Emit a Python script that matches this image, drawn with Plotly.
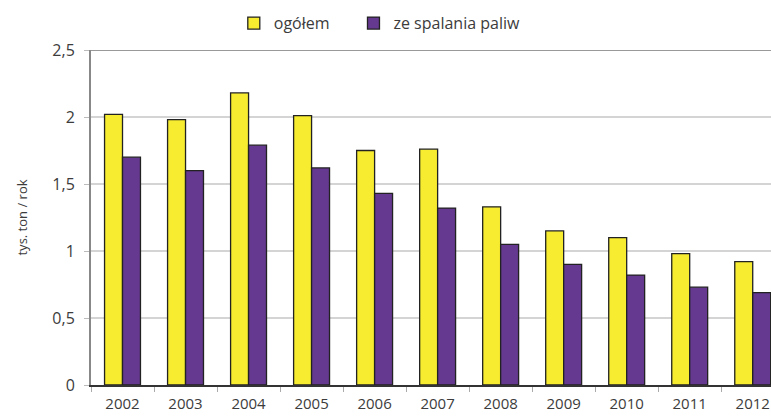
import plotly.graph_objects as go

years = ["2002", "2003", "2004", "2005", "2006", "2007", "2008", "2009", "2010", "2011", "2012"]
ogolem = [2.02, 1.98, 2.18, 2.01, 1.75, 1.76, 1.33, 1.15, 1.10, 0.98, 0.92]
spalanie = [1.70, 1.60, 1.79, 1.62, 1.43, 1.32, 1.05, 0.90, 0.82, 0.73, 0.69]
y_ticks = [0, 0.5, 1, 1.5, 2, 2.5]
y_tick_labels = ["0", "0,5", "1", "1,5", "2", "2,5"]

font_family = "Open Sans, Liberation Sans, sans-serif"
text_color = "#3c3c3c"

fig = go.Figure()
fig.add_trace(go.Bar(
    x=years, y=ogolem, name="ogółem", legend="legend",
    marker=dict(color="#F7EC2F", line=dict(color="#222222", width=1.3)),
))
fig.add_trace(go.Bar(
    x=years, y=spalanie, name="ze spalania paliw", legend="legend2",
    marker=dict(color="#65398F", line=dict(color="#222222", width=1.3)),
))

legend_common = dict(
    orientation="h", y=1.08, xanchor="left", yanchor="middle",
    font=dict(size=16, color=text_color), bgcolor="rgba(0,0,0,0)",
)

fig.update_layout(
    width=771, height=416,
    margin=dict(l=91, r=0, t=50, b=31),
    paper_bgcolor="white", plot_bgcolor="white",
    barmode="group", bargap=0.43, bargroupgap=0,
    font=dict(family=font_family, color=text_color, size=15),
    showlegend=True,
    legend=dict(x=0.21, **legend_common),
    legend2=dict(x=0.386, **legend_common),
    xaxis=dict(
        type="category", range=[-0.5, 10.29], automargin=False,
        showline=True, linecolor="#333333", linewidth=2,
        ticks="outside", tickson="boundaries", ticklen=5, tickcolor="#aaaaaa",
        showgrid=False, tickfont=dict(size=15, color=text_color),
        ticklabelstandoff=4,
    ),
    yaxis=dict(
        range=[0, 2.5], tickvals=y_ticks, ticktext=y_tick_labels, automargin=False,
        showline=True, linecolor="#888888", linewidth=2,
        ticks="outside", ticklen=5, tickcolor="#bbbbbb",
        showgrid=True, gridcolor="#d4d4d4", gridwidth=1.5,
        zeroline=False,
        tickfont=dict(size=16, color=text_color),
        ticklabelstandoff=6,
        title=dict(text="tys. ton / rok", font=dict(size=13, color=text_color), standoff=22),
    ),
    shapes=[dict(type="line", xref="paper", yref="y", x0=0, x1=1, y0=2.5, y1=2.5,
                 line=dict(color="#999999", width=2))],
)

fig.write_html("out.html")
